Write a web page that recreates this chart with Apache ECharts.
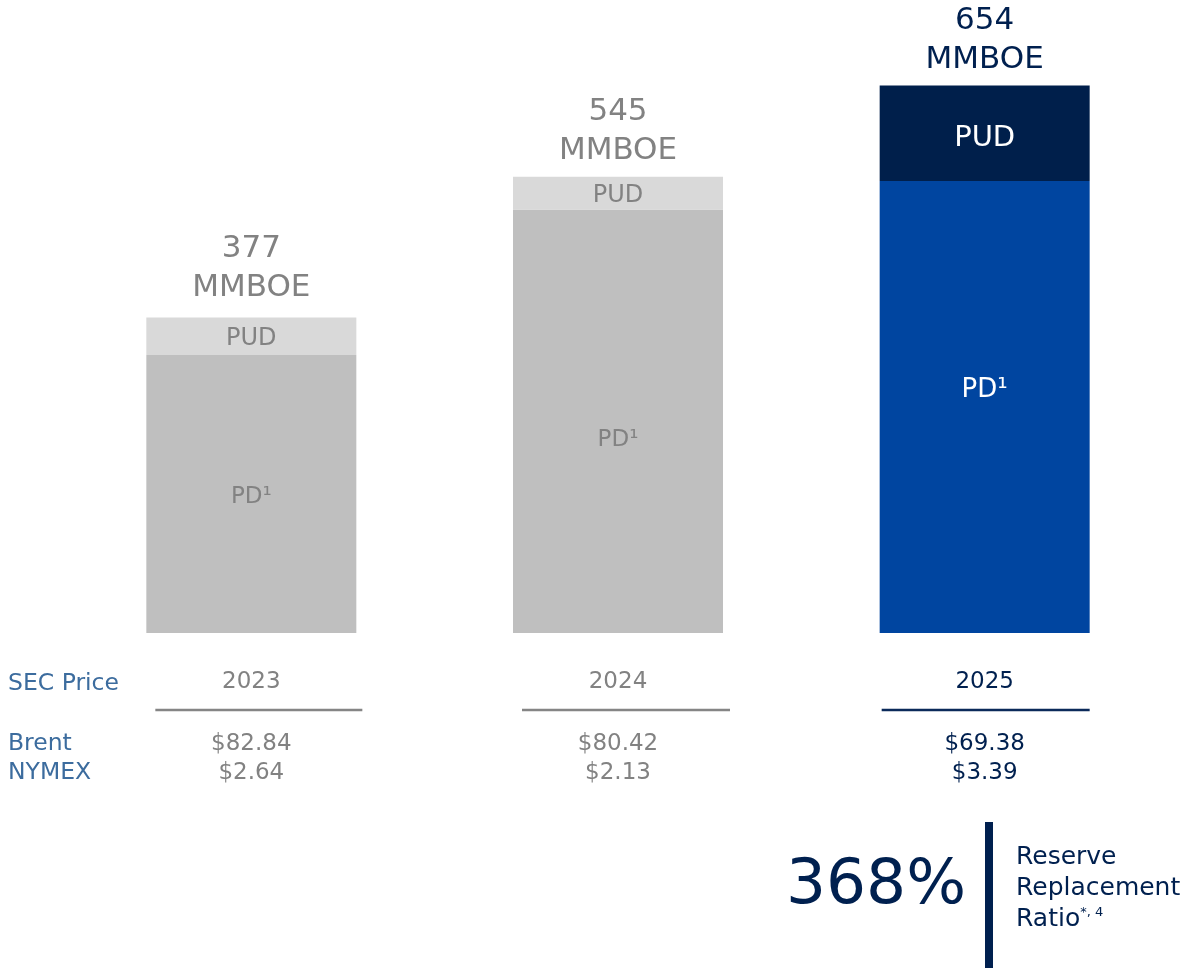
<!DOCTYPE html>
<html><head><meta charset="utf-8">
<script src="https://cdn.jsdelivr.net/npm/echarts@6/dist/echarts.min.js"></script>
<style>html,body{margin:0;padding:0;background:#fff}#c{width:1198px;height:968px}</style>
</head><body><div id="c"></div>
<script>
const years = ['2023', '2024', '2025'];
const pdValues = [332, 506, 540];
const pudValues = [45, 39, 114];
const totals = [377, 545, 654];
const brent = ['$82.84', '$80.42', '$69.38'];
const nymex = ['$2.64', '$2.13', '$3.39'];
const ratioValue = '368%';

const FONT = 'DejaVu Sans';
const GRAY = '#828282';
const NAVY = '#00204f';
const BLUE_TXT = '#3c6c9e';
const pdColors = ['#bfbfbf', '#bfbfbf', '#0045a0'];
const pudColors = ['#d9d9d9', '#d9d9d9', '#001f4b'];
const textColors = [GRAY, GRAY, NAVY];
const pdLabelColors = [GRAY, GRAY, '#ffffff'];
const pudLabelColors = [GRAY, GRAY, '#ffffff'];
const pdOffsets = [[0, 3], [0, 19], [0, -17]];
const lineOffsets = [[-96, 111], [-96, 112], [-103, 105]];

const chart = echarts.init(document.getElementById('c'));
chart.setOption({
  animation: false,
  grid: { left: 68, right: 30, top: 47, bottom: 335 },
  xAxis: { type: 'category', data: years, show: false },
  yAxis: { type: 'value', min: 0, max: 700, show: false },
  series: [
    {
      type: 'bar', stack: 'r', barWidth: 210,
      data: pdValues.map((v, i) => ({
        value: v,
        itemStyle: { color: pdColors[i] },
        label: { color: pdLabelColors[i], offset: pdOffsets[i], fontSize: i === 2 ? 26 : 23 }
      })),
      label: { show: true, position: 'inside', fontFamily: FONT, formatter: 'PD¹' }
    },
    {
      type: 'bar', stack: 'r', barWidth: 210,
      data: pudValues.map((v, i) => ({
        value: v,
        itemStyle: { color: pudColors[i] },
        label: { color: pudLabelColors[i], fontSize: i === 2 ? 29 : 24, offset: [0, i === 2 ? 5 : 3] }
      })),
      label: { show: true, position: 'inside', fontFamily: FONT, formatter: 'PUD' }
    },
    {
      type: 'bar', stack: 'r', barWidth: 210, silent: true,
      data: totals.map((t, i) => ({
        value: 0,
        label: { color: textColors[i], distance: i === 0 ? 10 : 6 }
      })),
      itemStyle: { color: 'transparent' },
      label: {
        show: true, position: 'top',
        fontFamily: FONT, fontSize: 31, lineHeight: 39,
        formatter: p => totals[p.dataIndex] + '\nMMBOE'
      }
    }
  ]
});

const g = [];
const FS = 23;
years.forEach((y, i) => {
  const cx = chart.convertToPixel({ xAxisIndex: 0 }, i);
  g.push({ type: 'text', x: cx, y: 682, style: { text: y, fontFamily: FONT, fontSize: FS, fill: textColors[i], align: 'center', verticalAlign: 'middle' } });
  g.push({ type: 'line', shape: { x1: cx + lineOffsets[i][0], y1: 710, x2: cx + lineOffsets[i][1], y2: 710 }, style: { stroke: i === 2 ? '#0b2a5a' : '#858585', lineWidth: 2.5 } });
  g.push({ type: 'text', x: cx, y: 744, style: { text: brent[i], fontFamily: FONT, fontSize: FS, fill: textColors[i], align: 'center', verticalAlign: 'middle' } });
  g.push({ type: 'text', x: cx, y: 773, style: { text: nymex[i], fontFamily: FONT, fontSize: FS, fill: textColors[i], align: 'center', verticalAlign: 'middle' } });
});
g.push({ type: 'text', x: 8, y: 684, style: { text: 'SEC Price', fontFamily: FONT, fontSize: 23.5, fill: BLUE_TXT, verticalAlign: 'middle' } });
g.push({ type: 'text', x: 8, y: 744, style: { text: 'Brent', fontFamily: FONT, fontSize: 23.5, fill: BLUE_TXT, verticalAlign: 'middle' } });
g.push({ type: 'text', x: 8, y: 773, style: { text: 'NYMEX', fontFamily: FONT, fontSize: 23.5, fill: BLUE_TXT, verticalAlign: 'middle' } });
g.push({ type: 'text', x: 966, y: 887, style: { text: ratioValue, fontFamily: FONT, fontSize: 63, fill: NAVY, align: 'right', verticalAlign: 'middle' } });
g.push({ type: 'rect', shape: { x: 985, y: 822, width: 8, height: 146 }, style: { fill: NAVY } });
g.push({ type: 'text', x: 1016, y: 857, style: { text: 'Reserve', fontFamily: FONT, fontSize: 25, fill: NAVY, verticalAlign: 'middle' } });
g.push({ type: 'text', x: 1016, y: 888, style: { text: 'Replacement', fontFamily: FONT, fontSize: 25, fill: NAVY, verticalAlign: 'middle' } });
g.push({ type: 'text', x: 1016, y: 919, style: {
  text: '{a|Ratio}{s|*, 4}', fontFamily: FONT, fill: NAVY, verticalAlign: 'middle',
  rich: { a: { fontSize: 25, fontFamily: FONT, color: NAVY }, s: { fontSize: 13, fontFamily: FONT, color: NAVY, padding: [0, 0, 13, 0] } }
} });
chart.setOption({ graphic: g });
</script></body></html>
